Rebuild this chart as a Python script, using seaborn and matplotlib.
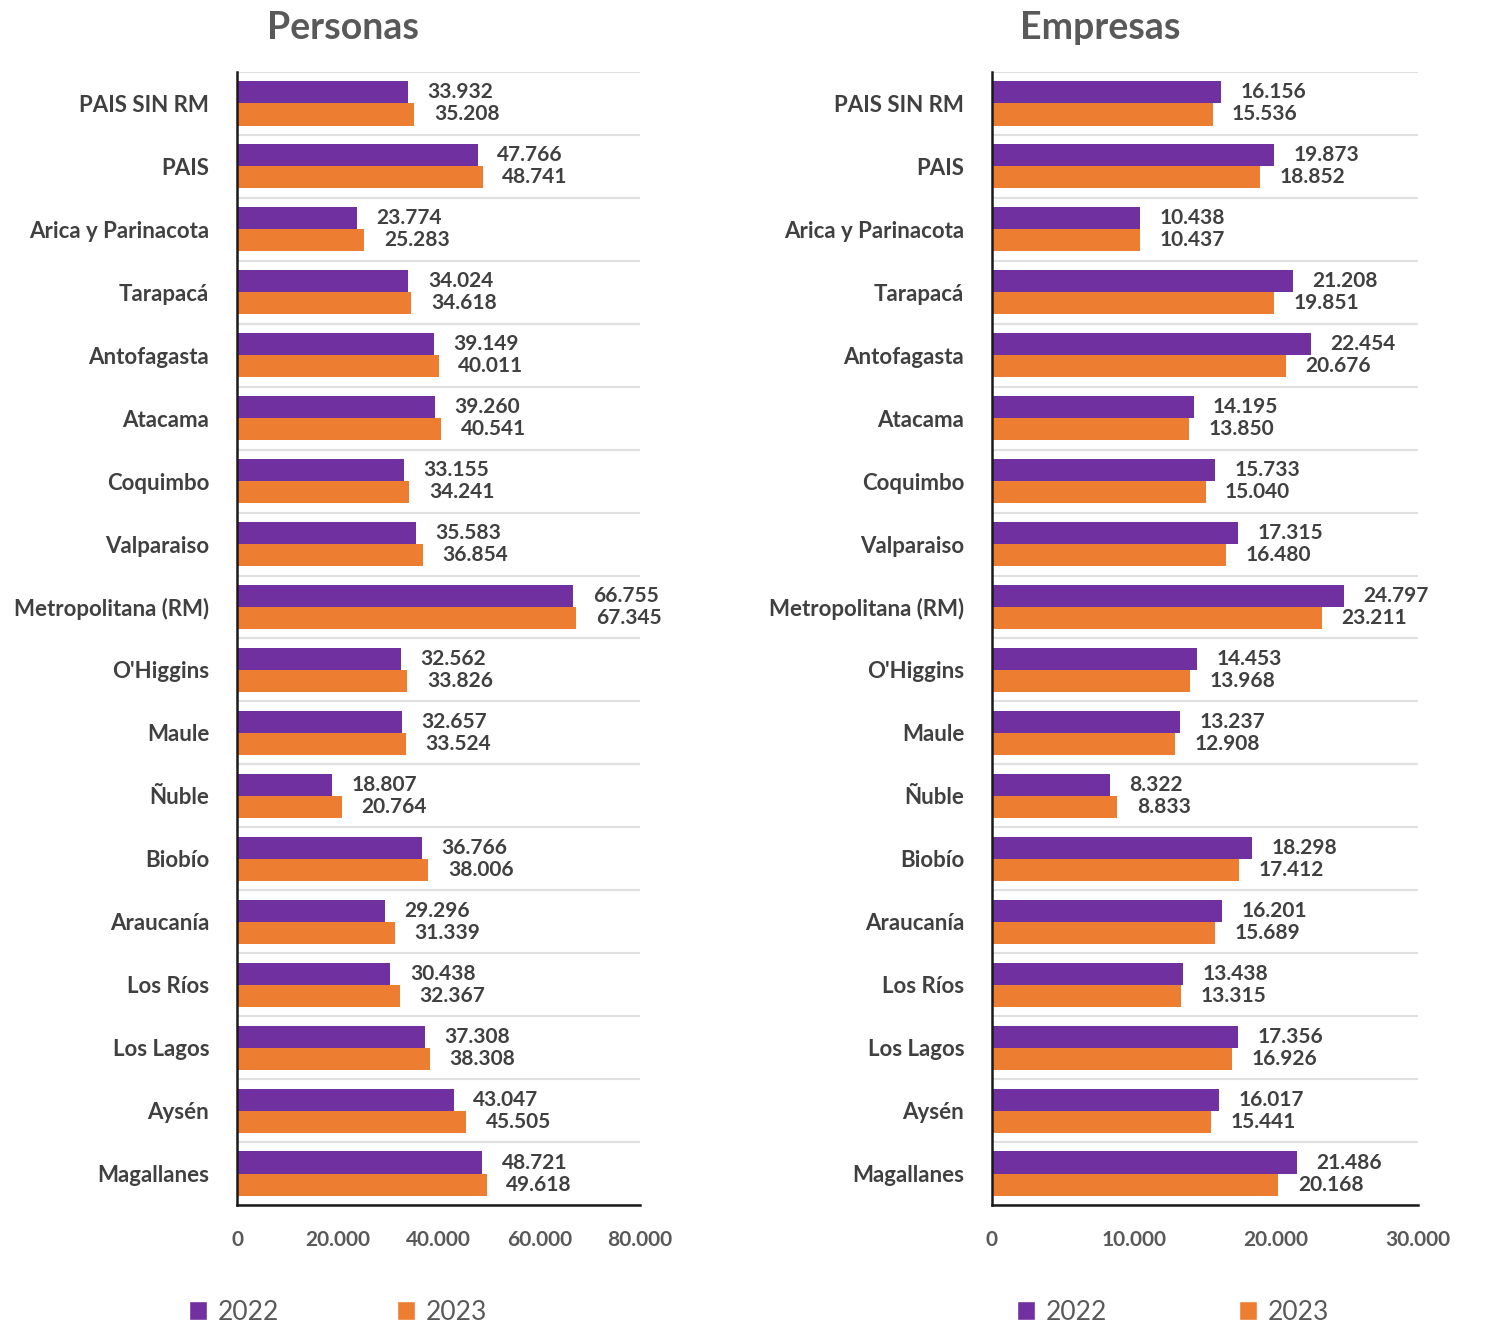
import numpy as np
import pandas as pd
import matplotlib
matplotlib.use("Agg")
import matplotlib.pyplot as plt
from matplotlib.patches import Patch
import seaborn as sns

regions = ["PAIS SIN RM", "PAIS", "Arica y Parinacota", "Tarapacá", "Antofagasta",
           "Atacama", "Coquimbo", "Valparaiso", "Metropolitana (RM)", "O'Higgins",
           "Maule", "Ñuble", "Biobío", "Araucanía", "Los Ríos", "Los Lagos",
           "Aysén", "Magallanes"]
years = ["2022", "2023"]

personas_2022 = [33932, 47766, 23774, 34024, 39149, 39260, 33155, 35583, 66755,
                 32562, 32657, 18807, 36766, 29296, 30438, 37308, 43047, 48721]
personas_2023 = [35208, 48741, 25283, 34618, 40011, 40541, 34241, 36854, 67345,
                 33826, 33524, 20764, 38006, 31339, 32367, 38308, 45505, 49618]
empresas_2022 = [16156, 19873, 10438, 21208, 22454, 14195, 15733, 17315, 24797,
                 14453, 13237, 8322, 18298, 16201, 13438, 17356, 16017, 21486]
empresas_2023 = [15536, 18852, 10437, 19851, 20676, 13850, 15040, 16480, 23211,
                 13968, 12908, 8833, 17412, 15689, 13315, 16926, 15441, 20168]

personas_ticks = [0, 20000, 40000, 60000, 80000]
empresas_ticks = [0, 10000, 20000, 30000]

PURPLE = "#7030A0"
ORANGE = "#ED7D31"
palette = {"2022": PURPLE, "2023": ORANGE}

sns.set_theme(style="white")
plt.rcParams["font.family"] = ["Lato", "DejaVu Sans"]


def long_df(v22, v23):
    return pd.DataFrame({
        "region": regions * 2,
        "year": ["2022"] * len(regions) + ["2023"] * len(regions),
        "value": list(v22) + list(v23),
    })


def fmt(v):
    return f"{int(round(v)):,}".replace(",", ".")


fig = plt.figure(figsize=(15, 13.42), dpi=100)

H = 1342.0
W = 1500.0
bottom = 1 - 1205 / H
top = 1 - 72 / H
ax1 = fig.add_axes([237 / W, bottom, 403 / W, top - bottom])
ax2 = fig.add_axes([992 / W, bottom, 426 / W, top - bottom])

for ax, (v22, v23), ticks, title, tx, legx, colsp in [
    (ax1, (personas_2022, personas_2023), personas_ticks, "Personas", 343, 165, 4.45),
    (ax2, (empresas_2022, empresas_2023), empresas_ticks, "Empresas", 1100, 993, 4.98),
]:
    df = long_df(v22, v23)
    sns.barplot(data=df, y="region", x="value", hue="year", order=regions,
                hue_order=years, palette=palette, orient="h", width=0.7,
                ax=ax, legend=False, saturation=1, errorbar=None, linewidth=0)
    for cont in ax.containers:
        ax.bar_label(cont, labels=[fmt(b.get_width()) for b in cont],
                     padding=14, fontsize=15, color="#404040", fontweight="bold")
    ax.set_xlim(ticks[0], ticks[-1])
    ax.set_ylim(len(regions) - 0.5, -0.5)
    ax.set_xticks(ticks)
    ax.set_xticklabels([fmt(t) for t in ticks], fontsize=15, color="#595959",
                       fontweight="bold")
    ax.tick_params(axis="x", length=0, pad=18)
    ax.tick_params(axis="y", length=0, pad=20, labelsize=16, labelcolor="#404040")
    for lbl in ax.get_yticklabels():
        lbl.set_fontweight("bold")
    ax.set_yticks(np.arange(-0.5, len(regions), 1), minor=True)
    ax.grid(False)
    ax.grid(which="minor", axis="y", color="#E0E0E0", linewidth=1.5)
    ax.set_axisbelow(True)
    ax.set_xlabel("")
    ax.set_ylabel("")
    for s in ["top", "right"]:
        ax.spines[s].set_visible(False)
    for s in ["left", "bottom"]:
        ax.spines[s].set_color("#1a1a1a")
        ax.spines[s].set_linewidth(1.8)
    fig.text(tx / W, 1 - 28 / H, title, ha="center", va="center",
             fontsize=27, fontweight="bold", color="#595959")
    handles = [Patch(facecolor=PURPLE, label="2022"), Patch(facecolor=ORANGE, label="2023")]
    fig.legend(handles=handles, loc="center left",
               bbox_to_anchor=(legx / W, 1 - 1312 / H), ncol=2, frameon=False,
               fontsize=19, labelcolor="#595959", handlelength=0.7,
               handleheight=0.7, handletextpad=0.4, columnspacing=colsp)

fig.savefig("out.png", dpi=100, facecolor="white")
